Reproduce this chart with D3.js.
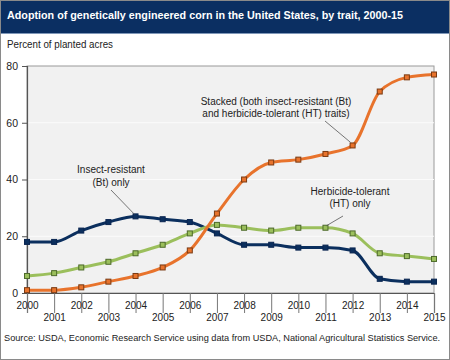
<!DOCTYPE html>
<html><head><meta charset="utf-8">
<script src="https://cdn.jsdelivr.net/npm/d3@7/dist/d3.min.js"></script>
<style>html,body{margin:0;padding:0;background:#fff}svg{display:block;font-family:"Liberation Sans",Arial,Helvetica,sans-serif}</style>
</head><body><svg id="c" width="450" height="360"></svg>
<script>
const years = [2000,2001,2002,2003,2004,2005,2006,2007,2008,2009,2010,2011,2012,2013,2014,2015];
const insectResistant = [18,18,22,25,27,26,25,21,17,17,16,16,15,5,4,4];
const herbicideTolerant = [6,7,9,11,14,17,21,24,23,22,23,23,21,14,13,12];
const stacked = [1,1,2,4,6,9,15,28,40,46,47,49,52,71,76,77];
const yTicks = [0,20,40,60,80];

const svg = d3.select("#c");
const W = 450, H = 360;
const m = {l:27, r:434, t:66, b:293};
const FF = "Liberation Sans,Arial,sans-serif";

svg.append("rect").attr("x",0).attr("y",0).attr("width",W).attr("height",H).attr("fill","#fff");
svg.append("rect").attr("x",0).attr("y",0).attr("width",W).attr("height",33).attr("fill","#0b2f62");
svg.append("line").attr("x1",0).attr("x2",W).attr("y1",33.5).attr("y2",33.5).attr("stroke","#7f97b8").attr("stroke-width",1);
svg.append("rect").attr("x",0.5).attr("y",0.5).attr("width",W-1).attr("height",H-1).attr("fill","none").attr("stroke","#8a8a8a");
svg.append("text").attr("x",7).attr("y",19).attr("fill","#fff").attr("font-size",11.6).attr("font-weight","bold")
  .attr("textLength",396).attr("lengthAdjust","spacingAndGlyphs")
  .text("Adoption of genetically engineered corn in the United States, by trait, 2000-15");
svg.append("text").attr("x",7).attr("y",48).attr("fill","#222").attr("font-size",10)
  .attr("textLength",106).attr("lengthAdjust","spacingAndGlyphs").text("Percent of planted acres");

const x = d3.scalePoint().domain(years).range([m.l, m.r]);
const y = d3.scaleLinear().domain([0,80]).range([m.b, m.t]);

svg.append("rect").attr("x",m.l).attr("y",m.t).attr("width",m.r-m.l).attr("height",m.b-m.t).attr("fill","#f1f1f1").attr("stroke","#9a9a9a").attr("stroke-width",1);
svg.append("g").selectAll("line").data(yTicks.slice(1,-1)).join("line")
  .attr("x1",m.l).attr("x2",m.r).attr("y1",d=>y(d)).attr("y2",d=>y(d)).attr("stroke","#fbfbfb").attr("stroke-width",1);

// y axis
const ya = svg.append("g").attr("transform",`translate(${m.l},0)`).call(d3.axisLeft(y).tickValues(yTicks).tickSize(5).tickPadding(4));
ya.select(".domain").attr("stroke","#555").attr("stroke-width",1.2);
ya.selectAll(".tick line").attr("stroke","#555");
ya.selectAll("text").attr("font-size",10.5).attr("fill","#222").attr("font-family",FF);

// x axis
const xa = svg.append("g").attr("transform",`translate(0,${m.b})`).call(d3.axisBottom(x).tickSize(20).tickFormat(d=>d));
xa.select(".domain").attr("stroke","#555").attr("stroke-width",1.2);
xa.selectAll(".tick line").attr("stroke","#777");
xa.selectAll("text").attr("font-size",10).attr("fill","#222").attr("font-family",FF)
  .attr("y",(d,i)=> i%2===0 ? 9 : 21).attr("dy","0.71em");

const series = [
  {vals: insectResistant, color:"#0b2f5e", mfill:"#0b2f5e", mstroke:"#0a2550"},
  {vals: herbicideTolerant, color:"#9bbf5c", mfill:"#9bbf5c", mstroke:"#4d6a2a"},
  {vals: stacked, color:"#e8732c", mfill:"#e8732c", mstroke:"#7a3a12"}
];
const line = d3.line().x((d,i)=>x(years[i])).y(d=>y(d)).curve(d3.curveMonotoneX);
series.forEach(s=>{
  svg.append("path").datum(s.vals).attr("d",line).attr("fill","none").attr("stroke",s.color).attr("stroke-width",3).attr("stroke-linejoin","round");
});
series.forEach(s=>{
  svg.append("g").selectAll("rect").data(s.vals).join("rect")
    .attr("x",(d,i)=>x(years[i])-2.5).attr("y",d=>y(d)-2.5).attr("width",5).attr("height",5)
    .attr("fill",s.mfill).attr("stroke",s.mstroke).attr("stroke-width",1);
});

// annotations
const ann = svg.append("g").attr("font-size",10).attr("fill","#222").attr("text-anchor","middle");
ann.append("text").attr("x",111).attr("y",173).text("Insect-resistant");
ann.append("text").attr("x",111).attr("y",186).text("(Bt) only");
svg.append("line").attr("x1",111).attr("y1",190).attr("x2",x(2004)-1).attr("y2",y(27)-2).attr("stroke","#555").attr("stroke-width",0.8);

ann.append("text").attr("x",276).attr("y",105).text("Stacked (both insect-resistant (Bt)");
ann.append("text").attr("x",276).attr("y",117).text("and herbicide-tolerant (HT) traits)");
svg.append("line").attr("x1",325).attr("y1",121).attr("x2",x(2012)-2).attr("y2",y(52)-3).attr("stroke","#555").attr("stroke-width",0.8);

ann.append("text").attr("x",350).attr("y",195).text("Herbicide-tolerant");
ann.append("text").attr("x",350).attr("y",207).text("(HT) only");
svg.append("line").attr("x1",343).attr("y1",216).attr("x2",x(2011)+1).attr("y2",y(23)-2).attr("stroke","#555").attr("stroke-width",0.8);

svg.append("text").attr("x",4).attr("y",341).attr("font-size",9.2).attr("fill","#222")
  .text("Source: USDA, Economic Research Service using data from USDA, National Agricultural Statistics Service.");
</script></body></html>
